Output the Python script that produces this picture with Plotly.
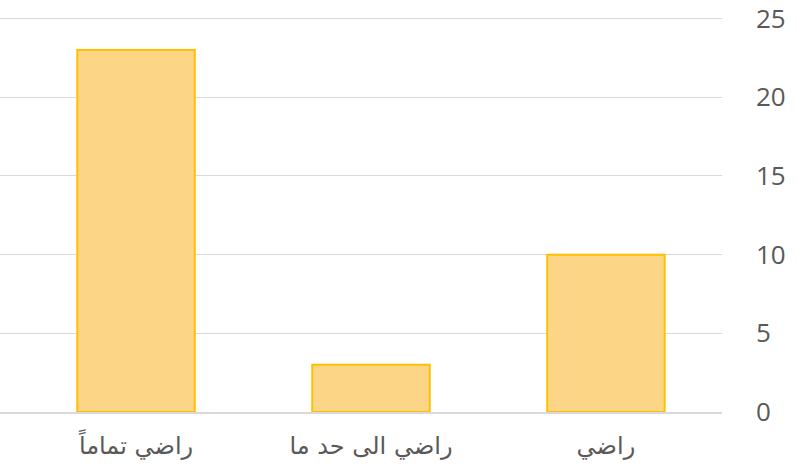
import plotly.graph_objects as go

categories = ["راضي تماماً", "راضي الى حد ما", "راضي"]
values = [23, 3, 10]
y_ticks = [0, 5, 10, 15, 20, 25]

fig = go.Figure(go.Bar(
    x=list(range(len(categories))),
    y=values,
    width=0.5,
    marker=dict(color="#FDD587", line=dict(color="#FFC000", width=2)),
    hoverinfo="skip",
))

fig.update_layout(
    width=797, height=475,
    margin=dict(l=0, r=75, t=17, b=63),
    plot_bgcolor="white", paper_bgcolor="white",
    showlegend=False,
    font=dict(family="DejaVu Sans, Liberation Sans", color="#595959", size=20),
)
fig.update_xaxes(
    range=[-0.579, 2.494],
    tickmode="array", tickvals=list(range(len(categories))), ticktext=categories,
    showgrid=False, zeroline=False,
    showline=True, linecolor="#D9D9D9", linewidth=2,
    ticks="", ticklabelstandoff=11, automargin=False,
    tickfont=dict(size=24, color="#595959", family="DejaVu Sans"),
)
fig.update_yaxes(
    range=[0, 25.1], side="right",
    tickmode="array", tickvals=y_ticks,
    showgrid=True, gridcolor="#D9D9D9", gridwidth=1,
    zeroline=False, showline=False, ticks="",
    ticklabelstandoff=33, automargin=False,
    ticklabeloverflow="allow",
    tickfont=dict(size=26, color="#595959", family="Open Sans"),
)

fig.write_html(
    "out.html",
    config={"displayModeBar": False},
    post_script="document.body.style.margin='0';document.body.style.padding='0';",
)
